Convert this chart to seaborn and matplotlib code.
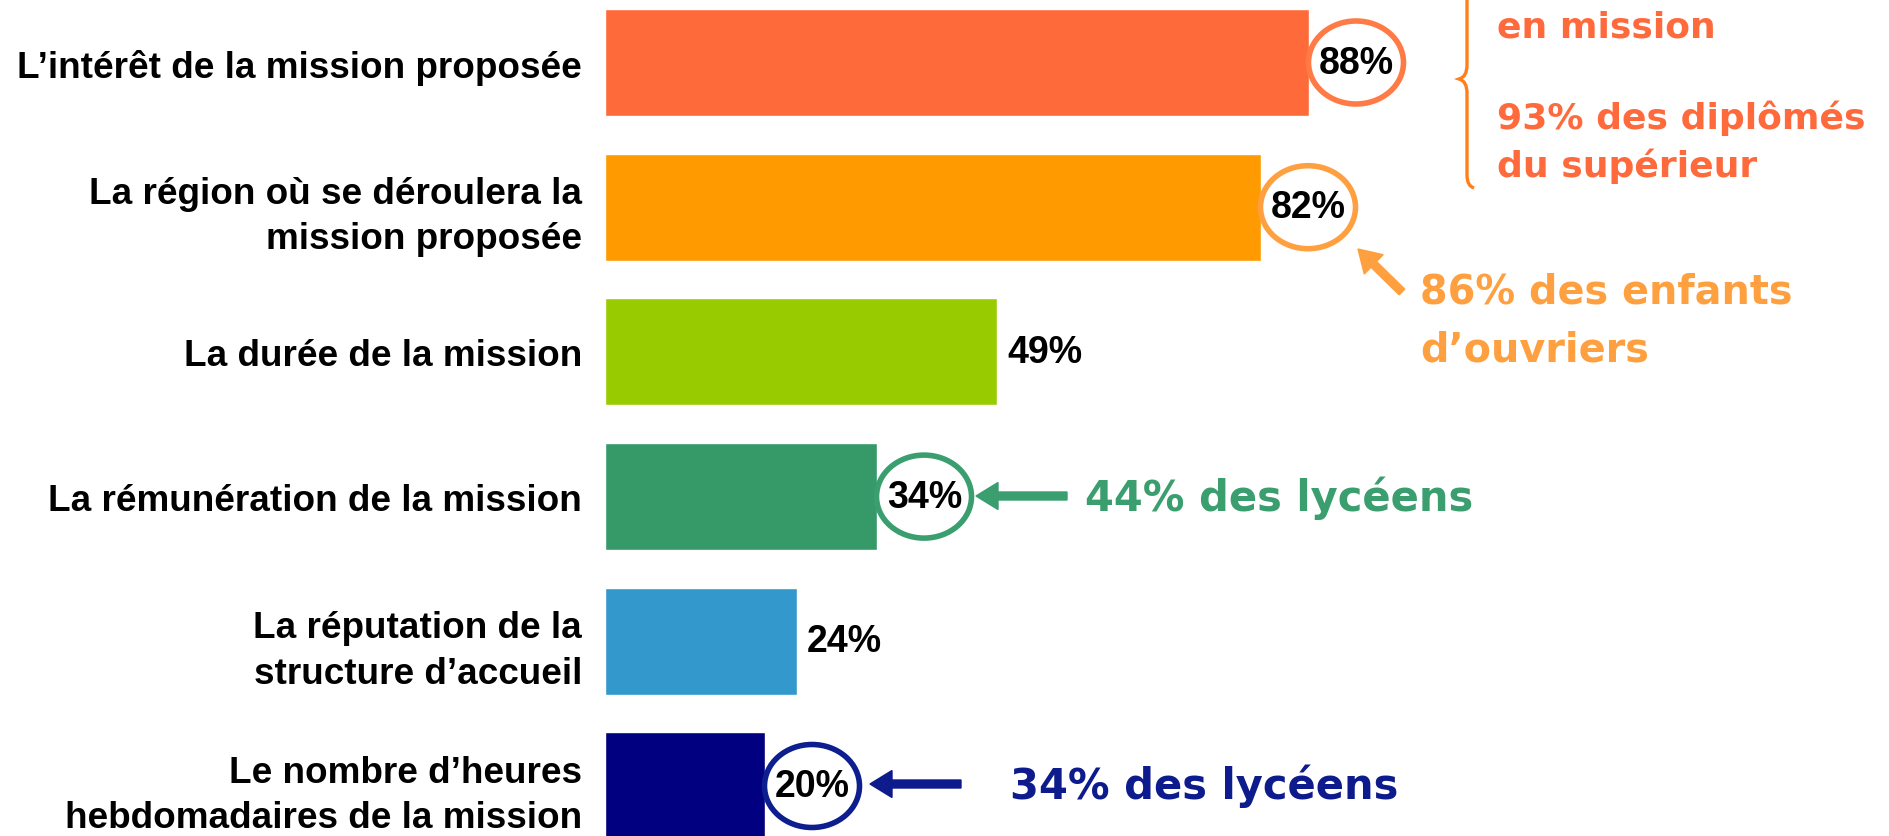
import numpy as np
import pandas as pd
import matplotlib
matplotlib.use("Agg")
import matplotlib.pyplot as plt
import seaborn as sns
from matplotlib.patches import Ellipse, FancyArrow, PathPatch
from matplotlib.path import Path
from matplotlib.transforms import IdentityTransform

# ---------------- data ----------------
categories = [
    "L’intérêt de la mission proposée",
    "La région où se déroulera la\nmission proposée",
    "La durée de la mission",
    "La rémunération de la mission",
    "La réputation de la\nstructure d’accueil",
    "Le nombre d’heures\nhebdomadaires de la mission",
]
values = [88, 82, 49, 34, 24, 20]
value_labels = ["88%", "82%", "49%", "34%", "24%", "20%"]
bar_colors = ["#FF6A3A", "#FF9A00", "#99CC00", "#359A68", "#3399CC", "#000080"]
circle_colors = ["#FF7A45", "#FFA040", None, "#3A9E6E", None, "#0D1F8F"]

# ---------------- figure ----------------
W, H = 1890, 837
sns.set_style("white")
plt.rcParams["font.family"] = ["Liberation Sans", "DejaVu Sans"]

fig = plt.figure(figsize=(W / 100, H / 100), dpi=100)
ax = fig.add_axes([605 / W, 0, 1 - 605 / W, 1])

df = pd.DataFrame({"cat": categories, "val": values})
sns.barplot(data=df, x="val", y="cat", hue="cat", order=categories,
            hue_order=categories, palette=bar_colors, saturation=1,
            legend=False, width=0.74, orient="h", ax=ax)

px_per_unit = 8.0
ax.set_xlim(0, (W - 605) / px_per_unit)
step = 144.7
ax.set_ylim((H - 63.5) / step, -63.5 / step)
for s in ax.spines.values():
    s.set_visible(False)
ax.set_xticks([])
ax.set_xlabel("")
ax.set_ylabel("")
ax.tick_params(axis="y", length=0, pad=16.5, labelcolor="black")
for lbl in ax.get_yticklabels():
    lbl.set_fontsize(26.6)
    lbl.set_fontweight("bold")
    lbl.set_linespacing(1.38)
    lbl.set_ha("right")
    lbl.set_color("black")

# value labels + circles
for i, (v, lab, cc) in enumerate(zip(values, value_labels, circle_colors)):
    ax.annotate(lab, xy=(v, i), xytext=(7.2, 0), textcoords="offset points",
                ha="left", va="center", fontsize=27, fontweight="bold",
                color="black")
    if cc is not None:
        ax.add_patch(Ellipse((v + 47 / px_per_unit, i), 95 / px_per_unit,
                             83 / step, fill=False, edgecolor=cc, lw=4.0,
                             zorder=5))

# helpers in pixel coordinates (origin top-left)
def fx(x):
    return x / W

def fy(y):
    return 1 - y / H

def arrow(tail, tip, color):
    x0, y0 = tail
    x1, y1 = tip
    a = FancyArrow(x0, H - y0, x1 - x0, -(y1 - y0), width=8, head_width=27,
                   head_length=22, length_includes_head=True, color=color,
                   transform=IdentityTransform())
    fig.add_artist(a)

ann_font = "DejaVu Sans"
green = "#3A9E6E"
navy = "#0D1B8C"
lorange = "#FFA040"
orange = "#FF6A3D"

arrow((1067, 497), (976, 497), green)
fig.text(fx(1085), fy(498), "44% des lycéens", ha="left", va="center",
         fontsize=30, fontweight="bold", family=ann_font, color=green)

arrow((961, 785), (870, 785), navy)
fig.text(fx(1010), fy(786), "34% des lycéens", ha="left", va="center",
         fontsize=30, fontweight="bold", family=ann_font, color=navy)

arrow((1402, 293), (1358, 250), lorange)
fig.text(fx(1420), fy(293), "86% des enfants", ha="left", va="center",
         fontsize=28.6, fontweight="bold", family=ann_font, color=lorange)
fig.text(fx(1420), fy(350), "d’ouvriers", ha="left", va="center",
         fontsize=28.6, fontweight="bold", family=ann_font, color=lorange)

fig.text(fx(1497), fy(27), "en mission", ha="left", va="center",
         fontsize=26, fontweight="bold", family=ann_font, color=orange)
fig.text(fx(1497), fy(118), "93% des diplômés", ha="left", va="center",
         fontsize=26, fontweight="bold", family=ann_font, color=orange)
fig.text(fx(1497), fy(166), "du supérieur", ha="left", va="center",
         fontsize=26, fontweight="bold", family=ann_font, color=orange)

# curly brace
pts = [(1467, -20), (1467, 66), (1467, 78), (1459, 80), (1467, 82),
       (1467, 94), (1467, 176), (1467, 187), (1474, 189)]
codes = [Path.MOVETO, Path.LINETO, Path.CURVE3, Path.CURVE3, Path.CURVE3,
         Path.CURVE3, Path.LINETO, Path.CURVE3, Path.CURVE3]
verts = [(x, H - y) for x, y in pts]
fig.add_artist(PathPatch(Path(verts, codes), fill=False, edgecolor="#FF7F1A",
                         lw=2.4, transform=IdentityTransform()))

fig.savefig("out.png", dpi=100)
